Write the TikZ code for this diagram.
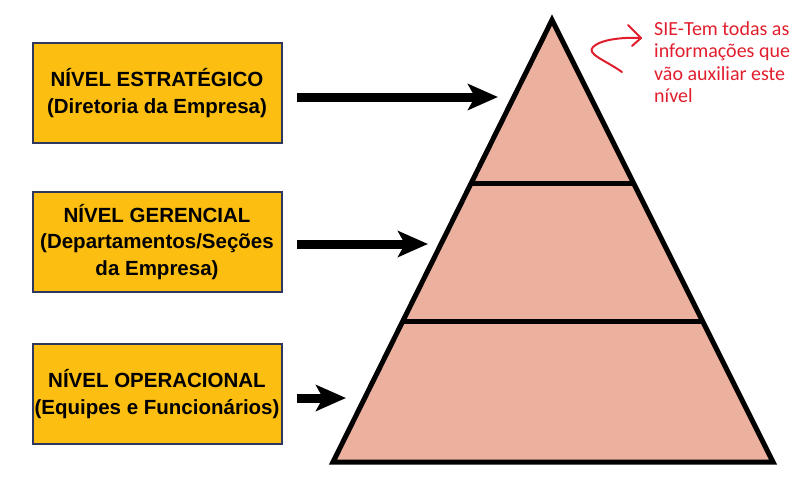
\documentclass[tikz,border=0pt]{standalone}
\usepackage{fontspec}
\setmainfont{Liberation Sans}
\newfontfamily\notefont{Carlito}
\usetikzlibrary{arrows.meta}
\definecolor{boxyellow}{RGB}{252,190,16}
\definecolor{boxborder}{RGB}{45,55,95}
\definecolor{pyrfill}{RGB}{235,176,158}
\definecolor{notered}{RGB}{225,30,45}
\tikzset{
  levelbox/.style={draw=boxborder, line width=2pt, fill=boxyellow, minimum width=249pt, minimum height=100pt, inner sep=0pt, align=center, font=\fontsize{20.5}{26.5}\selectfont\bfseries},
  bigarrow/.style={line width=9pt, -{Stealth[length=30pt,width=26pt,inset=7pt]}},
  pyrline/.style={line width=5pt, line join=miter},
  notetext/.style={anchor=north west, align=left, text=notered, inner sep=0pt, font=\notefont\fontsize{20}{22.5}\selectfont}
}
\begin{document}
\begin{tikzpicture}[x=1pt,y=-1pt]
\useasboundingbox (0,0) rectangle (800,496);
% pyramid
\coordinate (apex) at (552,20);
\coordinate (bl) at (333,462);
\coordinate (br) at (773,462);
\coordinate (l1) at (471,183);
\coordinate (r1) at (633,183);
\coordinate (l2) at (403,321);
\coordinate (r2) at (701,321);
\fill[pyrfill] (apex) -- (bl) -- (br) -- cycle;
\draw[pyrline] (l1) -- (r1);
\draw[pyrline] (l2) -- (r2);
\draw[pyrline] (apex) -- (bl) -- (br) -- cycle;
% boxes
\node[levelbox] (b1) at (157,93) {NÍVEL ESTRATÉGICO\\(Diretoria da Empresa)};
\node[levelbox] (b2) at (157,242) {NÍVEL GERENCIAL\\(Departamentos/Seções\\da Empresa)};
\node[levelbox] (b3) at (157,394) {NÍVEL OPERACIONAL\\(Equipes e Funcionários)};
% arrows
\coordinate (s1) at (297,97);
\coordinate (t1) at (498,97);
\coordinate (s2) at (297,244);
\coordinate (t2) at (428,244);
\coordinate (s3) at (297,398);
\coordinate (t3) at (346,398);
\draw[bigarrow] (s1) -- (t1);
\draw[bigarrow] (s2) -- (t2);
\draw[bigarrow] (s3) -- (t3);
% note
\node[notetext] (note) at (654,21) {SIE-Tem todas as\\informações que\\vão auxiliar este\\nível};
\coordinate (cs) at (622,72);
\coordinate (ce) at (641,38);
\draw[notered, line width=2pt, line cap=round, line join=round] (cs) .. controls (605,60) and (586,54) .. (593,47) .. controls (600,40) and (620,37) .. (ce);
\draw[notered, line width=2pt, line cap=round, line join=round] (628,25) -- (ce) -- (632,46);
\end{tikzpicture}
\end{document}
